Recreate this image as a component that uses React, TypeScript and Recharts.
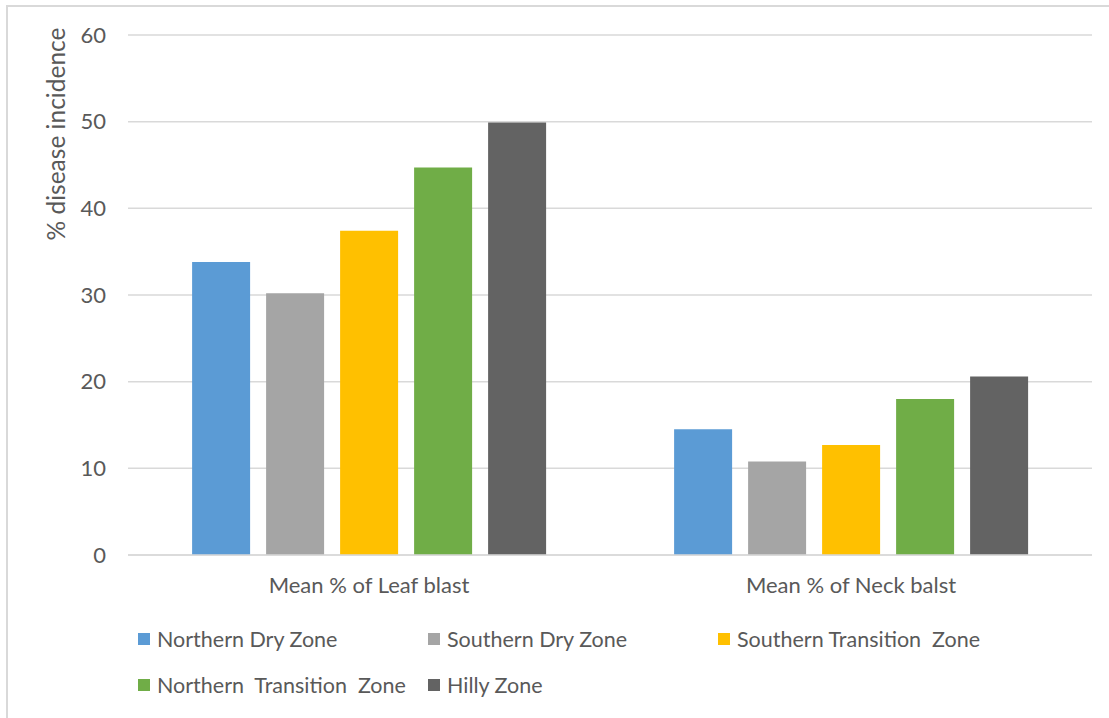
import { Bar, BarChart, CartesianGrid, XAxis, YAxis } from 'recharts';

const categories = ['Mean % of Leaf blast', 'Mean % of Neck balst'];
const zones = [
  'Northern Dry Zone',
  'Southern Dry Zone',
  'Southern Transition  Zone',
  'Northern  Transition  Zone',
  'Hilly Zone',
];
const zoneColors = ['#5B9BD5', '#A5A5A5', '#FFC000', '#70AD47', '#636363'];

const northernDry = [33.8, 14.5];
const southernDry = [30.2, 10.8];
const southernTransition = [37.4, 12.7];
const northernTransition = [44.7, 18.0];
const hilly = [49.9, 20.6];

const yTicks = [0, 10, 20, 30, 40, 50, 60];

const seriesValues = [northernDry, southernDry, southernTransition, northernTransition, hilly];

const data = categories.map((name, i) => {
  const row: Record<string, string | number> = { name };
  zones.forEach((z, j) => {
    row[z] = seriesValues[j][i];
  });
  return row;
});

const FONT = 'Lato, "Open Sans", sans-serif';
const TEXT = '#595959';

function YLabel() {
  return (
    <text
      x={55}
      y={134}
      transform="rotate(-90 55 134)"
      textAnchor="middle"
      dominantBaseline="central"
      fill={TEXT}
      fontSize={24.5}
      fontFamily={FONT}
    >
      % disease incidence
    </text>
  );
}

export default function App() {
  return (
    <div
      style={{
        position: 'fixed',
        left: 0,
        top: 0,
        width: 1109,
        height: 718,
        background: '#fff',
        overflow: 'hidden',
        fontFamily: FONT,
      }}
    >
      <div
        style={{
          position: 'absolute',
          left: 6,
          top: 5,
          width: 1200,
          height: 800,
          borderLeft: '2px solid #d9d9d9',
          borderTop: '2px solid #d9d9d9',
        }}
      />
      <div style={{ position: 'absolute', left: 0, top: 0 }}>
        <BarChart
          width={1109}
          height={718}
          data={data}
          margin={{ top: 35, right: 17, left: 58, bottom: 123 }}
          barCategoryGap="13.3%"
          barGap={16}
        >
          <CartesianGrid vertical={false} stroke="#d9d9d9" strokeWidth={1.5} />
          <XAxis
            dataKey="name"
            height={40}
            axisLine={{ stroke: '#d9d9d9', strokeWidth: 1.5 }}
            tickLine={false}
            tickSize={0}
            tickMargin={22}
            tick={{ fill: TEXT, fontSize: 22, fontFamily: FONT }}
          />
          <YAxis
            width={70}
            domain={[0, 60]}
            ticks={yTicks}
            axisLine={false}
            tickLine={false}
            tickSize={0}
            tickMargin={22}
            tick={{ fill: TEXT, fontSize: 22, fontFamily: FONT }}
            label={<YLabel />}
          />
          {zones.map((z, j) => (
            <Bar key={z} dataKey={z} fill={zoneColors[j]} isAnimationActive={false} />
          ))}
        </BarChart>
      </div>
      <div
        style={{
          position: 'absolute',
          left: 138,
          top: 616,
          width: 880,
          display: 'flex',
          flexWrap: 'wrap',
        }}
      >
        {zones.map((z, j) => (
          <div
            key={z}
            style={{
              width: 290,
              height: 46,
              display: 'flex',
              alignItems: 'center',
            }}
          >
            <span
              style={{
                display: 'inline-block',
                width: 12,
                height: 12,
                background: zoneColors[j],
                marginRight: 7,
              }}
            />
            <span style={{ color: TEXT, fontSize: 21.5, whiteSpace: 'pre', lineHeight: '28px' }}>{z}</span>
          </div>
        ))}
      </div>
    </div>
  );
}
